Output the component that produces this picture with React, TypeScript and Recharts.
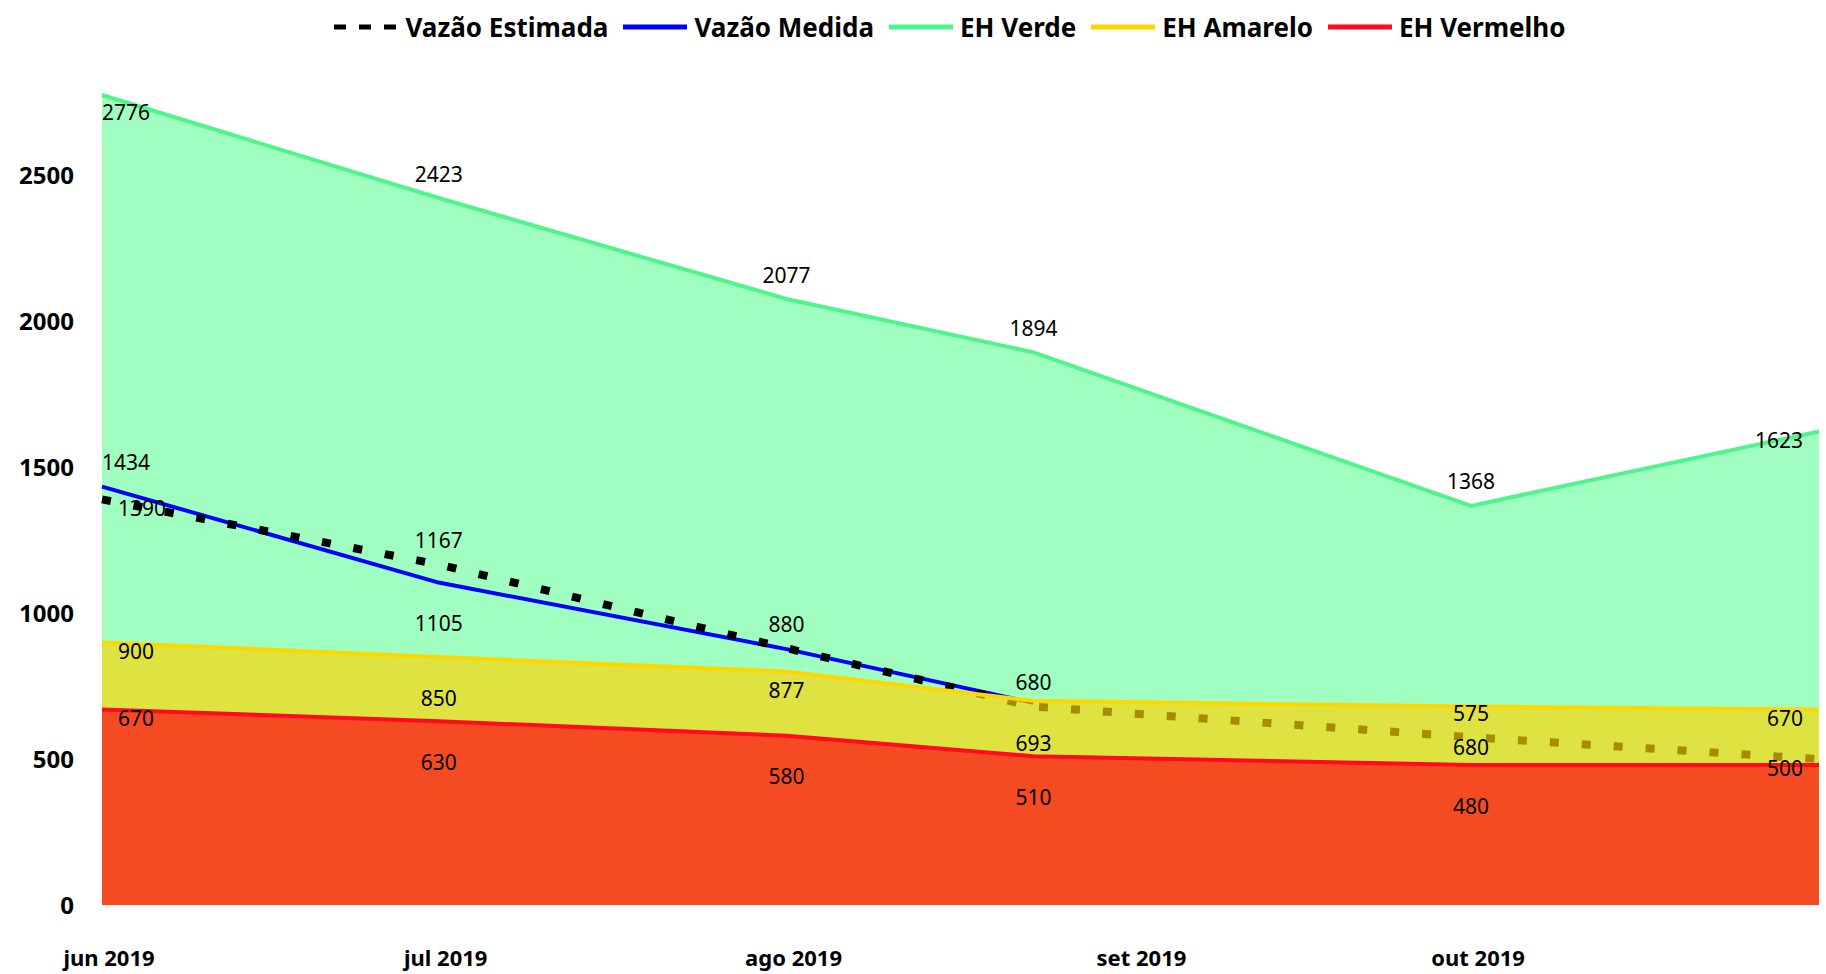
import { ComposedChart, Area, Line, XAxis, YAxis, Legend, LabelList } from "recharts";

// dates of each reading (the 4th one is mid-August)
const dates = ["2019-06-01", "2019-07-01", "2019-08-01", "2019-08-23", "2019-10-01", "2019-11-01"];
const vazaoEstimada = [1390, 1167, 880, 680, 575, 500];
const vazaoMedida: (number | null)[] = [1434, 1105, 877, 693, null, null];
const ehVerde = [2776, 2423, 2077, 1894, 1368, 1623];
const ehAmarelo = [900, 850, 800, 700, 680, 670];
const ehVermelho = [670, 630, 580, 510, 480, 480];

const monthTicks = ["2019-06-01", "2019-07-01", "2019-08-01", "2019-09-01", "2019-10-01"];
const monthLabels = ["jun 2019", "jul 2019", "ago 2019", "set 2019", "out 2019"];
const yTicks = [0, 500, 1000, 1500, 2000, 2500];

const FONT = "'Noto Sans', 'Open Sans', sans-serif";
const W = 1826;
const H = 974;
const PLOT_LEFT = 102;
const PLOT_TOP = 95;

const DAY = 86400000;
const START = Date.UTC(2019, 5, 1);
const toDay = (s: string) => {
  const [y, m, d] = s.split("-").map(Number);
  return Math.round((Date.UTC(y, m - 1, d) - START) / DAY);
};

const data = dates.map((d, i) => ({
  day: toDay(d),
  estimada: vazaoEstimada[i],
  medida: vazaoMedida[i],
  verde: ehVerde[i],
  amarelo: ehAmarelo[i],
  vermelho: ehVermelho[i],
}));

const monthTickDays = monthTicks.map(toDay);
const lastDay = toDay(dates[dates.length - 1]);

// where each data label sits relative to its point (excel-like)
const labelPlacement: Record<string, string[]> = {
  estimada: ["right", "above", "above", "above", "above", "end"],
  medida: ["aboveStart", "below", "below", "below", "none", "none"],
  verde: ["aboveStart", "above", "above", "above", "above", "end"],
  amarelo: ["right", "below", "none", "none", "below", "end"],
  vermelho: ["right", "below", "below", "below", "below", "none"],
};

const legendItems = [
  { name: "Vazão Estimada", color: "#000000", dashed: true },
  { name: "Vazão Medida", color: "#0000ff" },
  { name: "EH Verde", color: "#4ef58a" },
  { name: "EH Amarelo", color: "#ffd700" },
  { name: "EH Vermelho", color: "#ff0a1e" },
];

function makeLabel(key: string) {
  const placements = labelPlacement[key];
  return (props: any) => {
    const { value, index } = props;
    const vb = props.viewBox || {};
    const x = typeof props.x === "number" ? props.x : vb.x;
    const y = typeof props.y === "number" ? props.y : vb.y;
    const mode = placements[index];
    if (value == null || x == null || y == null || !mode || mode === "none") return null;
    let tx = x;
    let ty = y;
    let anchor: "start" | "middle" | "end" = "middle";
    if (mode === "above") ty = y - 24;
    else if (mode === "below") ty = y + 41;
    else if (mode === "right") {
      tx = x + 16;
      ty = y + 9;
      anchor = "start";
    } else if (mode === "end") {
      tx = x - 16;
      ty = y + 9;
      anchor = "end";
    } else if (mode === "aboveStart") {
      tx = Math.max(x, PLOT_LEFT);
      ty = Math.max(y - 24, PLOT_TOP + 17);
      anchor = "start";
    }
    return (
      <text x={tx} y={ty} dy="0.36em" textAnchor={anchor} fontSize={21} fontFamily={FONT} fill="#000">
        {value}
      </text>
    );
  };
}

const YTick = (props: any) => (
  <text x={props.x} y={props.y} dy="0.36em" textAnchor="end" fontSize={24} fontWeight={700} fontFamily={FONT} fill="#000">
    {props.payload.value}
  </text>
);

const XTick = (props: any) => {
  const i = monthTickDays.indexOf(props.payload.value);
  return (
    <text x={props.x + 7} y={props.y} dy="0.36em" textAnchor="middle" fontSize={22} fontWeight={700} fontFamily={FONT} fill="#000">
      {i >= 0 ? monthLabels[i] : ""}
    </text>
  );
};

const renderLegend = () => (
  <div style={{ position: "relative", height: 0 }}>
    <div
      style={{
        position: "absolute",
        top: 0,
        left: 0,
        width: W,
        height: 54,
        paddingLeft: 89,
        boxSizing: "border-box",
        display: "flex",
        alignItems: "center",
        justifyContent: "center",
        fontFamily: FONT,
        fontWeight: 700,
        fontSize: 26,
        color: "#000",
        whiteSpace: "nowrap",
      }}
    >
      {legendItems.map((it) => (
        <div key={it.name} style={{ display: "flex", alignItems: "center", marginRight: 15 }}>
          <svg width={64} height={10}>
            <line
              x1={0}
              y1={5}
              x2={64}
              y2={5}
              stroke={it.color}
              strokeWidth={5}
              strokeDasharray={it.dashed ? "12 13" : undefined}
            />
          </svg>
          <span style={{ marginLeft: 7 }}>{it.name}</span>
        </div>
      ))}
    </div>
  </div>
);

export default function App() {
  return (
    <div style={{ position: "absolute", left: 0, top: 0, width: W, height: H, background: "#fff" }}>
      <ComposedChart width={W} height={H} data={data} margin={{ top: PLOT_TOP, right: 7, left: 0, bottom: 0 }}>
        <XAxis
          type="number"
          dataKey="day"
          domain={[0, lastDay]}
          ticks={monthTickDays}
          interval={0}
          height={69}
          axisLine={false}
          tickLine={false}
          tickSize={0}
          tickMargin={53}
          tick={<XTick />}
        />
        <YAxis
          type="number"
          domain={[0, 2776]}
          ticks={yTicks}
          interval={0}
          width={102}
          axisLine={false}
          tickLine={false}
          tickSize={0}
          tickMargin={28}
          tick={<YTick />}
        />
        <Legend verticalAlign="top" content={renderLegend} wrapperStyle={{ top: 0, left: 0, width: W, height: 0 }} />

        <Area
          type="linear"
          dataKey="verde"
          name="EH Verde"
          stroke="#4ef58a"
          strokeWidth={4}
          fill="#a0ffc0"
          fillOpacity={1}
          isAnimationActive={false}
          zIndex={100}
        />
        <Line
          type="linear"
          dataKey="medida"
          name="Vazão Medida"
          stroke="#0000ff"
          strokeWidth={4}
          dot={false}
          activeDot={false}
          isAnimationActive={false}
          zIndex={101}
        />
        <Line
          type="linear"
          dataKey="estimada"
          name="Vazão Estimada"
          stroke="#000000"
          strokeWidth={8}
          strokeDasharray="9 23"
          dot={false}
          activeDot={false}
          isAnimationActive={false}
          zIndex={102}
        />
        <Area
          type="linear"
          dataKey="amarelo"
          name="EH Amarelo"
          stroke="#ffd700"
          strokeWidth={4}
          fill="#ffd400"
          fillOpacity={0.66}
          isAnimationActive={false}
          zIndex={103}
        />
        <Area
          type="linear"
          dataKey="vermelho"
          name="EH Vermelho"
          stroke="#ff0a1e"
          strokeWidth={4}
          fill="#ff0014"
          fillOpacity={0.67}
          isAnimationActive={false}
          zIndex={104}
        />

        {/* label carriers, drawn last so the text stays on top */}
        {["verde", "medida", "estimada", "amarelo", "vermelho"].map((k) => (
          <Line
            key={"lbl-" + k}
            dataKey={k}
            stroke="none"
            dot={false}
            activeDot={false}
            legendType="none"
            isAnimationActive={false}
            zIndex={200}
          >
            <LabelList dataKey={k} content={makeLabel(k)} />
          </Line>
        ))}
      </ComposedChart>
    </div>
  );
}
